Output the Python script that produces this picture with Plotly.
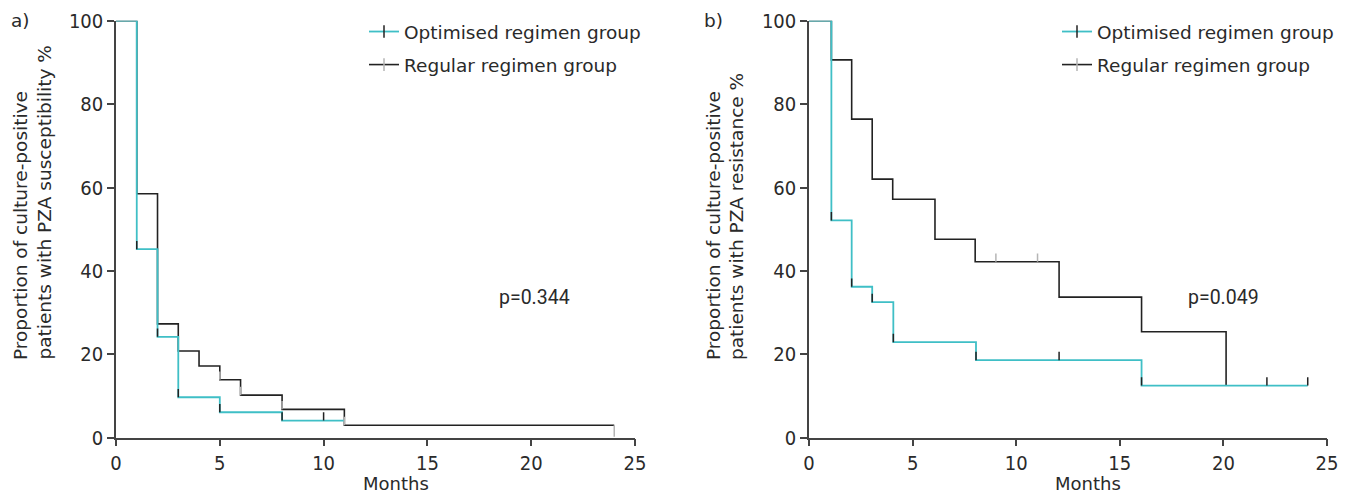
import plotly.graph_objects as go

# ---------------- data ----------------
# Panel a (PZA susceptibility)
a_opt_months = [0, 1, 2, 3, 5, 8, 11]
a_opt_pct = [100, 45.2, 24.2, 9.7, 6.1, 4.1, 4.1]
a_opt_cens_months = [1, 2, 3, 5, 8, 10]
a_opt_cens_pct = [45.2, 24.2, 9.7, 6.1, 4.1, 4.1]
a_reg_months = [0, 1, 2, 3, 4, 5, 6, 8, 11, 24]
a_reg_pct = [100, 58.5, 27.3, 20.8, 17.2, 13.9, 10.2, 6.8, 3.0, 3.0]
a_reg_cens_months = [5, 6, 8, 11, 24]
a_reg_cens_pct = [13.9, 10.2, 6.8, 3.0, 3.0]
a_pvalue = "p=0.344"

# Panel b (PZA resistance)
b_opt_months = [0, 1.08, 2.06, 3.05, 4.07, 8.06, 16.05, 24.07]
b_opt_pct = [100, 52.1, 36.2, 32.5, 22.9, 18.6, 12.5, 12.5]
b_opt_cens_months = [1.08, 2.06, 3.05, 4.07, 8.06, 12.07, 16.05, 22.1, 24.07]
b_opt_cens_pct = [52.1, 36.2, 32.5, 22.9, 18.6, 18.6, 12.5, 12.5, 12.5]
b_reg_months = [0, 1.08, 2.06, 3.05, 4.04, 6.08, 8.02, 12.07, 16.05, 20.13]
b_reg_pct = [100, 90.6, 76.4, 62.0, 57.2, 47.6, 42.2, 33.7, 25.4, 12.5]
b_reg_cens_months = [9.02, 11.03]
b_reg_cens_pct = [42.2, 42.2]
b_pvalue = "p=0.049"

x_ticks = [0, 5, 10, 15, 20, 25]
y_ticks = [0, 20, 40, 60, 80, 100]
group_names = ["Optimised regimen group", "Regular regimen group"]
ytitle_line1 = "Proportion of culture-positive"
ytitle_a_line2 = "patients with PZA susceptibility %"
ytitle_b_line2 = "patients with PZA resistance %"

# ---------------- styling ----------------
W, H = 1354, 495
TEAL = "#3fbfc6"
DARK = "#222222"
GRAY = "#b5b5b5"
AXIS = "#444444"
TFONT = "DejaVu Sans"
NFONT = "Liberation Sans Narrow, DejaVu Sans Condensed, Roboto"
TXT = "#2a2a2a"
TSIZE = 18.5


def px(x):
    return x / W


def py(y):
    return 1 - y / H


fig = go.Figure()


def tick_err(n, color, down_last=False):
    up = [2.0] * n
    dn = [0.0] * n
    if down_last:
        up[-1] = 0.0
        dn[-1] = 2.8
    return dict(type="data", array=up, arrayminus=dn, symmetric=False, width=0, thickness=1.5, color=color)


def add_panel(xa, ya, leg, opt_m, opt_p, oc_m, oc_p, reg_m, reg_p, rc_m, rc_p, down_last):
    # regular (black) first so teal is drawn on top
    fig.add_trace(go.Scatter(x=reg_m, y=reg_p, mode="lines", line=dict(color=DARK, width=1.6, shape="hv"),
                             xaxis=xa, yaxis=ya, showlegend=False, cliponaxis=False, hoverinfo="skip"))
    fig.add_trace(go.Scatter(x=opt_m, y=opt_p, mode="lines", line=dict(color=TEAL, width=1.8, shape="hv"),
                             xaxis=xa, yaxis=ya, showlegend=False, cliponaxis=False, hoverinfo="skip"))
    # censor ticks
    fig.add_trace(go.Scatter(x=rc_m, y=rc_p, mode="markers", marker=dict(size=1, opacity=0),
                             error_y=tick_err(len(rc_m), GRAY, down_last),
                             xaxis=xa, yaxis=ya, showlegend=False, cliponaxis=False, hoverinfo="skip"))
    fig.add_trace(go.Scatter(x=oc_m, y=oc_p, mode="markers", marker=dict(size=1, opacity=0),
                             error_y=tick_err(len(oc_m), DARK),
                             xaxis=xa, yaxis=ya, showlegend=False, cliponaxis=False, hoverinfo="skip"))
    # legend entries
    fig.add_trace(go.Scatter(x=[None], y=[None], mode="lines+markers", name=group_names[0],
                             line=dict(color=TEAL, width=1.8),
                             marker=dict(symbol="line-ns", size=9, line=dict(color=DARK, width=1.5)),
                             xaxis=xa, yaxis=ya, legend=leg, legendgroup=leg + "o"))
    fig.add_trace(go.Scatter(x=[None], y=[None], mode="lines+markers", name=group_names[1],
                             line=dict(color=DARK, width=1.6),
                             marker=dict(symbol="line-ns", size=9, line=dict(color=GRAY, width=1.5)),
                             xaxis=xa, yaxis=ya, legend=leg, legendgroup=leg + "r"))


add_panel("x", "y", "legend", a_opt_months, a_opt_pct, a_opt_cens_months, a_opt_cens_pct,
          a_reg_months, a_reg_pct, a_reg_cens_months, a_reg_cens_pct, True)
add_panel("x2", "y2", "legend2", b_opt_months, b_opt_pct, b_opt_cens_months, b_opt_cens_pct,
          b_reg_months, b_reg_pct, b_reg_cens_months, b_reg_cens_pct, False)

y_dom = [py(437.7), py(20.7)]
axis_common = dict(showline=True, linecolor=AXIS, linewidth=1.5, ticks="outside", ticklen=7,
                   tickwidth=1.5, tickcolor=AXIS, showgrid=False, zeroline=False, automargin=False,
                   tickfont=dict(family=NFONT, size=20, color=TXT))

fig.update_layout(
    template="none",
    width=W, height=H,
    margin=dict(l=0, r=0, t=0, b=0, pad=0, autoexpand=False),
    plot_bgcolor="white", paper_bgcolor="white",
    font=dict(family=TFONT, color=TXT),
    xaxis=dict(domain=[px(116), px(635)], range=[0, 25], tickvals=x_ticks, anchor="y", **axis_common),
    yaxis=dict(domain=y_dom, range=[0, 100], tickvals=y_ticks, anchor="x", **axis_common),
    xaxis2=dict(domain=[px(809), px(1327)], range=[0, 25], tickvals=x_ticks, anchor="y2", **axis_common),
    yaxis2=dict(domain=y_dom, range=[0, 100], tickvals=y_ticks, anchor="x2", **axis_common),
    legend=dict(x=px(364), y=py(13), xanchor="left", yanchor="top", bgcolor="rgba(0,0,0,0)",
                font=dict(family=TFONT, size=TSIZE, color=TXT), tracegroupgap=6),
    legend2=dict(x=px(1057), y=py(13), xanchor="left", yanchor="top", bgcolor="rgba(0,0,0,0)",
                 font=dict(family=TFONT, size=TSIZE, color=TXT), tracegroupgap=6),
)

ann = []
for lab, xl in [("a)", 9), ("b)", 702)]:
    ann.append(dict(text=lab, x=px(xl), y=py(20), xref="paper", yref="paper", xanchor="left",
                    yanchor="middle", showarrow=False, font=dict(family=TFONT, size=TSIZE, color=TXT)))
for xc in [396, 1088]:
    ann.append(dict(text="Months", x=px(xc), y=py(495), xref="paper", yref="paper", xanchor="center",
                    yanchor="bottom", borderpad=0, showarrow=False,
                    font=dict(family=TFONT, size=18, color=TXT)))
for txt, xc in [(ytitle_line1, 20.5), (ytitle_a_line2, 43.5), (ytitle_line1, 713.5), (ytitle_b_line2, 736.5)]:
    ann.append(dict(text=txt, x=px(xc), y=py(362), xref="paper", yref="paper", xanchor="center",
                    yanchor="bottom", textangle=-90, showarrow=False,
                    font=dict(family=TFONT, size=TSIZE, color=TXT)))
ann.append(dict(text=a_pvalue, x=18.35, y=33.7, xref="x", yref="y", xanchor="left", yanchor="middle",
                showarrow=False, font=dict(family="Roboto", size=19.5, color=TXT)))
ann.append(dict(text=b_pvalue, x=18.2, y=33.7, xref="x2", yref="y2", xanchor="left", yanchor="middle",
                showarrow=False, font=dict(family="Roboto", size=19.5, color=TXT)))
fig.update_layout(annotations=ann)

fig.write_html("out.html", config={"displayModeBar": False},
               post_script="document.body.style.margin='0px';")
